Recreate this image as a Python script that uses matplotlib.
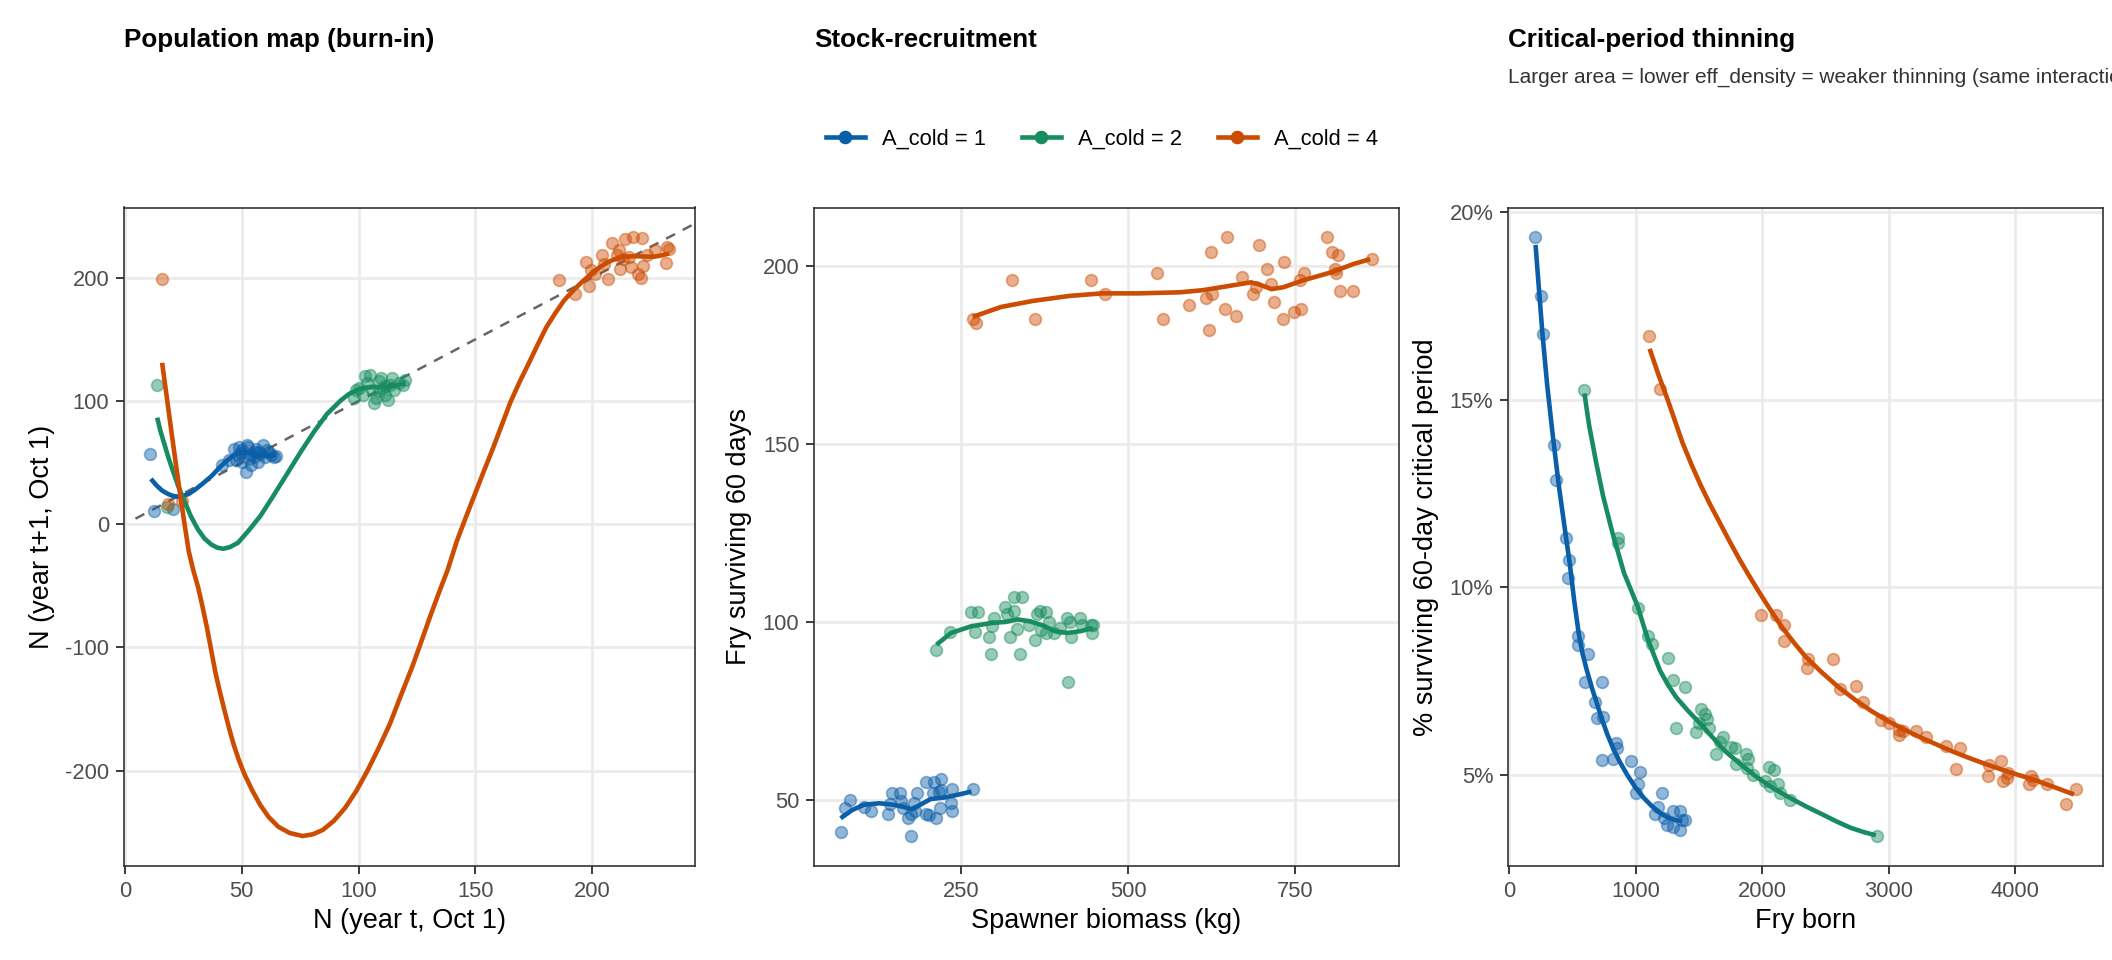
import matplotlib
matplotlib.use('Agg')
import matplotlib.pyplot as plt
from matplotlib.lines import Line2D
from matplotlib.ticker import FuncFormatter

plt.rcParams['font.family'] = ['Liberation Sans', 'DejaVu Sans']
plt.rcParams['axes.unicode_minus'] = False

groups = ['A_cold = 1', 'A_cold = 2', 'A_cold = 4']
colors = ['#0b5ea8', '#178c60', '#cc4c02']

# ---- panel 1: population map (burn-in) ----
map_x = [
    [10.7, 12.6, 20.6, 41.7, 44.5, 46.5, 47.4, 48.4, 49.0, 49.5, 50.3, 50.3, 51.8, 52.2, 52.8,
     53.2, 54.1, 54.1, 55.1, 55.5, 56.0, 57.0, 57.5, 58.0, 58.9, 59.8, 60.9, 61.8, 62.5, 63.7, 64.8],
    [13.8, 17.8, 98.1, 99.0, 100.0, 101.9, 102.9, 103.8, 104.8, 105.7, 106.7, 107.6, 108.6, 108.6,
     109.6, 110.5, 111.5, 111.5, 112.4, 113.4, 114.3, 115.3, 117.2, 119.1, 120.0],
    [15.7, 18.4, 24.5, 185.7, 192.7, 197.5, 198.7, 199.4, 201.3, 204.2, 205.2, 206.7, 208.6, 210.5,
     211.3, 211.9, 213.1, 214.2, 215.7, 216.6, 217.6, 219.5, 220.8, 221.4, 221.8, 223.3, 227.1,
     231.5, 231.9, 232.9],
]
map_y = [
    [57.3, 10.9, 12.3, 47.7, 52.0, 61.4, 51.8, 55.9, 63.0, 58.0, 60.0, 50.5, 42.3, 64.1, 62.5,
     53.2, 57.3, 47.7, 54.6, 58.5, 61.4, 50.5, 59.0, 57.3, 64.1, 54.6, 60.0, 58.7, 56.5, 54.6, 55.5],
    [113.2, 13.6, 102.3, 109.0, 110.5, 105.0, 120.0, 114.6, 121.4, 109.0, 98.2, 102.3, 107.8, 115.9,
     118.7, 110.5, 105.0, 111.9, 101.0, 113.2, 118.7, 109.0, 114.6, 113.2, 117.3],
    [199.2, 16.4, 19.1, 197.8, 186.4, 212.8, 193.2, 206.0, 203.3, 218.3, 211.5, 199.2, 228.4, 218.3,
     222.4, 207.4, 214.8, 231.1, 217.0, 208.7, 232.7, 203.3, 200.0, 231.9, 209.3, 218.3, 222.4,
     212.0, 225.1, 223.7],
]
map_fit_x = [
    [11.1, 13.5, 15.9, 18.5, 20.5, 22.6, 24.5, 27.3, 30.0, 33.1, 37.0, 40.7, 43.5, 46.5, 49.0, 51.2,
     54.5, 57.9, 61.0, 64.6],
    [13.8, 15.2, 16.8, 18.7, 20.7, 23.0, 25.4, 28.2, 31.2, 34.0, 36.9, 39.5, 42.1, 45.0, 48.4, 53.0,
     58.0, 63.5, 69.4, 75.0, 80.9, 86.5, 92.4, 96.0, 100.0, 103.5, 107.6, 111.5, 115.3, 120.0],
    [15.9, 17.8, 19.7, 21.6, 23.5, 25.4, 27.3, 29.2, 31.2, 33.1, 35.0, 36.9, 38.8, 40.7, 42.6, 44.5,
     46.5, 48.8, 51.2, 54.5, 57.9, 61.5, 65.6, 70.5, 76.1, 80.5, 84.7, 89.5, 94.3, 99.0, 103.8,
     108.5, 113.4, 118.0, 122.9, 126.8, 130.6, 134.4, 138.2, 142.0, 145.8, 149.7, 153.5, 157.4,
     161.2, 165.0, 168.8, 172.7, 176.5, 180.3, 184.1, 187.9, 191.8, 195.6, 199.5, 203.3, 207.1,
     210.9, 214.7, 218.5, 222.4, 226.2, 229.5, 232.9],
]
map_fit_y = [
    [36.8, 31.5, 27.3, 24.5, 23.0, 22.4, 22.8, 24.6, 28.0, 32.7, 39.0, 46.4, 51.5, 55.9, 57.5, 58.1,
     57.5, 55.9, 55.6, 55.9],
    [86.5, 75.5, 65.5, 53.5, 42.3, 30.0, 19.1, 6.5, -4.1, -11.5, -16.4, -19.0, -19.9, -18.5, -15.0,
     -5.0, 6.8, 23.0, 40.9, 58.0, 75.0, 89.5, 100.5, 105.8, 109.5, 111.0, 111.3, 111.4, 112.0,
     114.6],
    [131.0, 104.5, 77.8, 51.5, 25.9, 1.5, -22.0, -37.0, -50.3, -66.0, -83.0, -102.0, -121.0, -136.5,
     -151.0, -165.0, -178.6, -191.5, -203.0, -216.0, -227.7, -237.5, -245.4, -250.5, -253.0, -251.5,
     -248.0, -240.5, -230.0, -216.5, -200.0, -182.0, -162.0, -139.5, -116.0, -95.5, -75.0, -55.5,
     -36.7, -14.0, 5.0, 24.0, 42.5, 61.0, 80.0, 99.0, 115.0, 130.0, 145.0, 159.6, 171.0, 181.4,
     189.5, 196.5, 203.0, 208.7, 213.0, 216.0, 217.2, 217.5, 217.2, 217.0, 218.0, 219.6],
]

# ---- panel 2: stock-recruitment ----
sr_x = [
    [69.4, 76.5, 83.7, 104.6, 115.3, 140.3, 142.9, 146.9, 158.2, 159.7, 163.3, 169.9, 174.5, 174.5,
     178.6, 181.1, 183.7, 196.9, 196.9, 201.5, 207.1, 209.2, 212.2, 216.3, 218.4, 219.4, 219.4,
     234.7, 235.7, 235.7, 267.3],
    [212.8, 232.7, 264.3, 274.5, 270.4, 291.8, 294.9, 299.0, 296.0, 315.3, 318.4, 322.4, 328.6,
     340.8, 328.6, 333.2, 337.8, 351.0, 360.2, 363.3, 367.3, 376.5, 369.4, 376.5, 381.6, 388.8,
     398.0, 407.7, 413.3, 414.3, 409.2, 427.0, 430.6, 443.9, 444.9, 446.4],
    [267.1, 272.6, 325.4, 360.4, 444.8, 464.7, 542.9, 552.5, 590.9, 615.6, 623.9, 625.2, 621.1,
     644.4, 647.1, 661.5, 670.4, 686.9, 695.1, 691.7, 708.2, 713.0, 717.8, 732.2, 731.5, 747.3,
     756.9, 758.2, 763.0, 796.6, 804.9, 813.1, 809.0, 810.4, 817.2, 836.4, 865.2],
]
sr_y = [
    [41.2, 48.0, 50.1, 48.2, 47.1, 46.1, 49.0, 52.1, 52.1, 49.9, 48.0, 45.2, 40.0, 46.1, 49.2, 47.1,
     52.0, 55.2, 46.1, 46.0, 52.0, 55.2, 45.0, 52.5, 48.0, 56.1, 52.9, 49.2, 53.1, 47.1, 53.1],
    [92.1, 97.2, 103.0, 103.0, 97.2, 96.0, 91.1, 101.2, 98.9, 104.2, 102.2, 96.0, 107.2, 107.2,
     103.1, 98.1, 91.1, 99.1, 95.1, 102.2, 103.1, 102.9, 97.7, 97.0, 100.1, 97.0, 98.4, 101.1,
     100.0, 96.0, 83.1, 101.2, 99.1, 99.1, 97.0, 99.3],
    [185.0, 184.0, 196.0, 185.0, 196.0, 192.0, 198.0, 185.0, 189.0, 191.1, 204.0, 192.0, 182.0,
     188.0, 208.0, 186.0, 197.0, 192.0, 206.0, 194.0, 199.1, 195.0, 190.0, 201.0, 185.0, 187.0,
     196.0, 188.0, 198.0, 208.0, 204.0, 203.0, 199.1, 198.0, 193.0, 193.0, 202.0],
]
sr_fit_x = [
    [69.4, 86.7, 104.6, 127.6, 148.0, 163.3, 176.0, 188.8, 204.1, 224.5, 244.9, 265.3],
    [212.8, 234.7, 265.3, 296.0, 316.3, 334.2, 352.0, 372.4, 390.0, 408.2, 428.6, 446.4],
    [267.1, 309.7, 357.7, 412.6, 460.6, 515.4, 577.2, 611.5, 651.1, 683.5, 697.2, 714.3, 731.5,
     762.3, 803.5, 837.8, 861.9],
]
sr_fit_y = [
    [45.0, 47.3, 48.8, 49.2, 48.8, 48.2, 47.5, 48.8, 50.4, 50.8, 51.6, 52.5],
    [93.7, 97.0, 98.9, 99.8, 100.1, 100.8, 100.3, 99.1, 97.5, 97.0, 97.5, 98.4],
    [185.7, 188.5, 190.2, 191.6, 192.3, 192.3, 192.6, 193.2, 194.4, 195.4, 194.7, 193.5, 194.0,
     196.0, 198.2, 200.6, 201.9],
]

# ---- panel 3: critical-period thinning (% surviving) ----
cp_x = [
    [206, 250, 265, 357, 368, 449, 467, 478, 542, 542, 599, 628, 679, 696, 737, 737, 744, 824, 846,
     856, 962, 1006, 1016, 1032, 1154, 1176, 1212, 1224, 1250, 1295, 1295, 1353, 1353, 1369, 1391],
    [596, 865, 865, 1016, 1096, 1128, 1256, 1295, 1320, 1391, 1474, 1497, 1513, 1545, 1561, 1577,
     1635, 1667, 1689, 1753, 1785, 1795, 1872, 1881, 1891, 1929, 2026, 2051, 2064, 2090, 2122,
     2138, 2218, 2907],
    [1104, 1196, 1994, 2106, 2173, 2170, 2362, 2353, 2558, 2612, 2740, 2795, 2939, 3003, 3083, 3077,
     3115, 3218, 3292, 3452, 3564, 3532, 3788, 3782, 3885, 3901, 3942, 3933, 4109, 4125, 4141,
     4253, 4397, 4478],
]
cp_y = [
    [19.33, 17.76, 16.76, 13.80, 12.86, 11.31, 10.25, 10.74, 8.70, 8.46, 7.47, 8.23, 6.94, 6.52,
     7.47, 5.39, 6.54, 5.42, 5.84, 5.71, 5.36, 4.53, 4.75, 5.09, 3.96, 4.14, 4.51, 3.86, 3.66, 4.05,
     3.61, 4.04, 3.54, 3.81, 3.79],
    [15.27, 11.31, 11.19, 9.46, 8.70, 8.50, 8.13, 7.52, 6.25, 7.34, 6.15, 6.38, 6.76, 6.63, 6.49,
     6.25, 5.55, 5.87, 6.02, 5.75, 5.71, 5.29, 5.55, 5.18, 5.42, 5.00, 4.84, 5.20, 4.71, 5.13, 4.75,
     4.53, 4.32, 3.37],
    [16.70, 15.29, 9.26, 9.26, 9.01, 8.56, 8.10, 7.85, 8.10, 7.29, 7.38, 6.94, 6.46, 6.38, 6.20,
     6.07, 6.18, 6.16, 6.00, 5.78, 5.73, 5.15, 5.26, 4.97, 5.36, 4.84, 5.04, 4.93, 4.75, 4.97, 4.86,
     4.77, 4.23, 4.62],
]
cp_fit_x = [
    [210, 236, 265, 302, 346, 394, 449, 480, 515, 551, 580, 615, 655, 696, 736, 776, 824, 872, 936,
     1000, 1064, 1128, 1192, 1256, 1312, 1369],
    [596, 633, 688, 743, 817, 909, 1016, 1096, 1192, 1256, 1321, 1417, 1513, 1609, 1705, 1834, 1962,
     2090, 2218, 2346, 2474, 2587, 2699, 2798, 2897],
    [1111, 1185, 1259, 1369, 1442, 1516, 1590, 1664, 1742, 1820, 1900, 1980, 2067, 2154, 2250, 2346,
     2475, 2603, 2731, 2859, 2987, 3115, 3244, 3372, 3500, 3628, 3757, 3885, 4013, 4141, 4302,
     4462],
]
cp_fit_y = [
    [19.13, 17.99, 16.74, 15.39, 14.05, 12.71, 11.37, 10.64, 9.65, 8.77, 8.25, 7.79, 7.32, 6.89,
     6.47, 6.09, 5.70, 5.37, 4.99, 4.66, 4.39, 4.17, 3.99, 3.86, 3.80, 3.77],
    [15.17, 14.32, 13.34, 12.44, 11.46, 10.38, 9.50, 8.62, 7.79, 7.40, 7.07, 6.70, 6.36, 6.00, 5.64,
     5.27, 4.93, 4.64, 4.39, 4.16, 3.95, 3.76, 3.59, 3.48, 3.39],
    [16.36, 15.63, 14.95, 13.87, 13.27, 12.71, 12.20, 11.73, 11.23, 10.75, 10.29, 9.85, 9.39, 8.95,
     8.53, 8.14, 7.72, 7.34, 7.01, 6.71, 6.45, 6.22, 6.01, 5.82, 5.63, 5.46, 5.30, 5.15, 5.01, 4.88,
     4.68, 4.48],
]

W, H = 2112, 960
fig = plt.figure(figsize=(W / 150, H / 150), dpi=150)


def box(left, right, top=207.5, bottom=866):
    return [left / W, 1 - bottom / H, (right - left) / W, (bottom - top) / H]


ax1 = fig.add_axes(box(124, 695))
ax2 = fig.add_axes(box(814, 1399))
ax3 = fig.add_axes(box(1508, 2103))


def draw(ax, xs, ys, fxs, fys):
    for i in range(3):
        ax.scatter(xs[i], ys[i], s=32, color=colors[i], alpha=0.45, linewidths=0.8, zorder=3)
    for i in range(3):
        ax.plot(fxs[i], fys[i], color=colors[i], lw=2.2, zorder=4, solid_capstyle='butt',
                solid_joinstyle='round')


draw(ax1, map_x, map_y, map_fit_x, map_fit_y)
draw(ax2, sr_x, sr_y, sr_fit_x, sr_fit_y)
draw(ax3, cp_x, cp_y, cp_fit_x, cp_fit_y)

# identity line on the population map
ax1.autoscale_view()
x0, x1 = ax1.get_xlim()
ax1.plot([4.5, x1], [4.5, x1], color='#666666', lw=1.2, ls=(0, (4, 3.5)), zorder=2,
         scalex=False, scaley=False)
ax1.set_xlim(x0, x1)

ax1.set_xticks([0, 50, 100, 150, 200])
ax1.set_yticks([-200, -100, 0, 100, 200])
ax2.set_xticks([250, 500, 750])
ax2.set_yticks([50, 100, 150, 200])
ax3.set_xticks([0, 1000, 2000, 3000, 4000])
ax3.set_yticks([5, 10, 15, 20])
ax3.yaxis.set_major_formatter(FuncFormatter(lambda v, p: f'{v:.0f}%'))

ax1.set_xlabel('N (year t, Oct 1)')
ax1.set_ylabel('N (year t+1, Oct 1)')
ax2.set_xlabel('Spawner biomass (kg)')
ax2.set_ylabel('Fry surviving 60 days')
ax3.set_xlabel('Fry born')
ax3.set_ylabel('% surviving 60-day critical period')

for ax in (ax1, ax2, ax3):
    ax.set_axisbelow(True)
    ax.grid(True, color='#EBEBEB', lw=1.3)
    for sp in ax.spines.values():
        sp.set_color('#333333')
        sp.set_linewidth(0.8)
    ax.tick_params(direction='out', length=4, width=0.9, color='#333333',
                   labelcolor='#4D4D4D', labelsize=10.5, pad=3)
    ax.xaxis.label.set_size(13)
    ax.yaxis.label.set_size(13)
    ax.xaxis.labelpad = 3
    ax.yaxis.labelpad = 5

fig.text(124 / W, 1 - 40 / H, 'Population map (burn-in)', fontsize=12.5, fontweight='bold', va='center')
fig.text(814 / W, 1 - 40 / H, 'Stock-recruitment', fontsize=12.5, fontweight='bold', va='center')
fig.text(1508 / W, 1 - 40 / H, 'Critical-period thinning', fontsize=12.5, fontweight='bold', va='center')
fig.text(1508 / W, 1 - 77 / H,
         'Larger area = lower eff_density = weaker thinning (same interaction strength)',
         fontsize=10, color='#333333', va='center')

handles = [Line2D([], [], color=c, lw=2.2, marker='o', markersize=5.5,
                  markerfacecolor=c, markeredgecolor=c, alpha=1) for c in colors]
fig.legend(handles, groups, loc='center', bbox_to_anchor=(1102 / W, 1 - 139 / H), ncol=3,
           frameon=False, fontsize=10.5, handlelength=1.8, handletextpad=0.8, columnspacing=1.6)

fig.savefig('out.png', dpi=150)
